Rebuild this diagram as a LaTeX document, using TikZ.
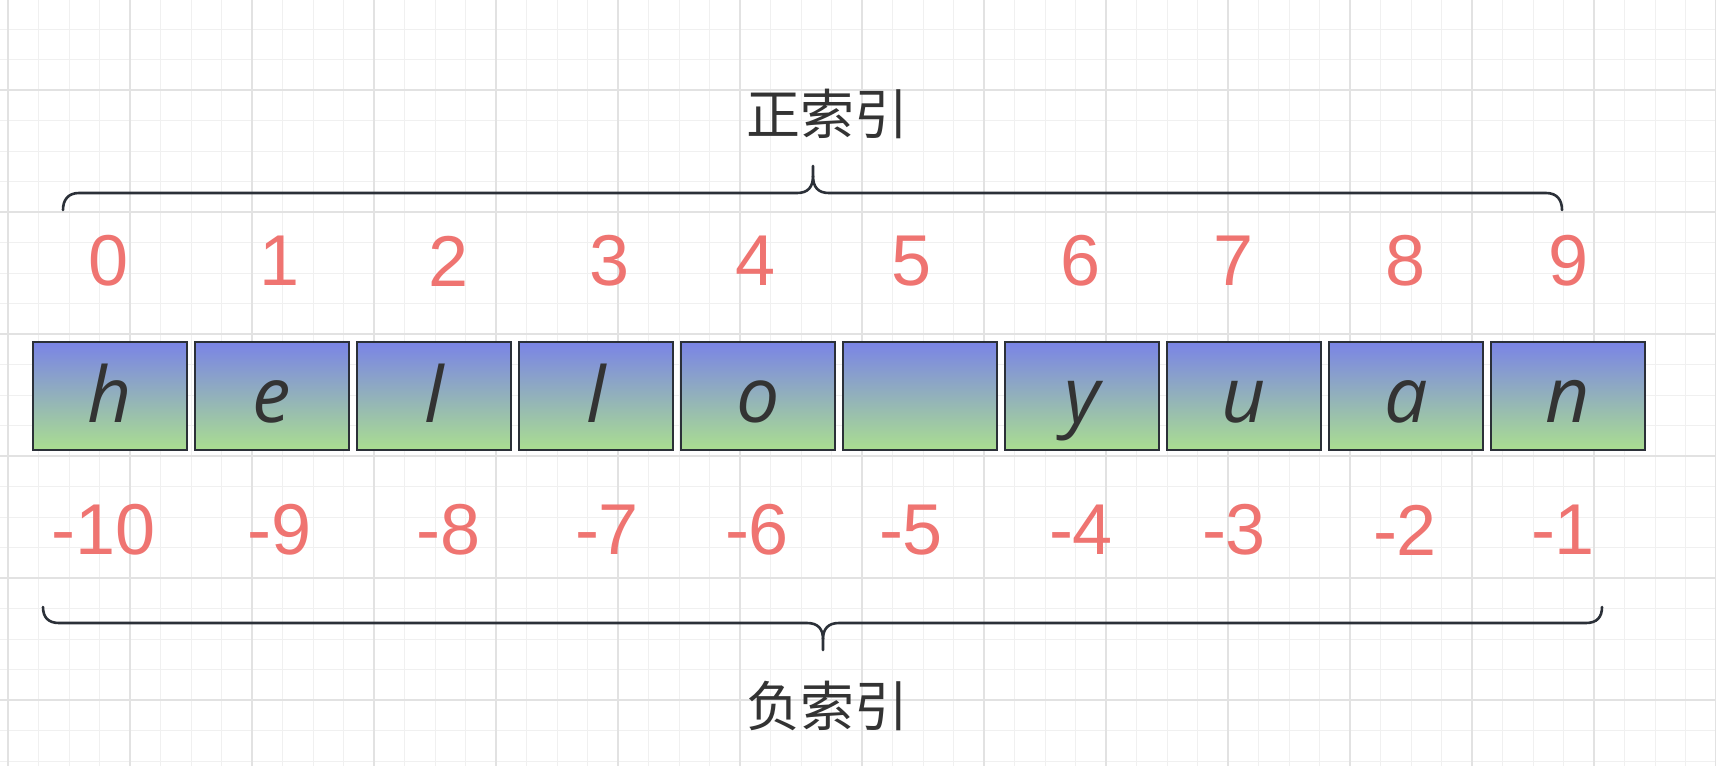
\documentclass[tikz,border=0pt]{standalone}
\usepackage{fontspec}
\setmainfont{Liberation Sans}
\newfontfamily\cjk{Noto Sans CJK SC}
\newfontfamily\letterfont{Open Sans}
\definecolor{minorgrid}{HTML}{F0F0F0}
\definecolor{majorgrid}{HTML}{E2E2E2}
\definecolor{boxline}{HTML}{2B3038}
\definecolor{topfill}{HTML}{7A84E6}
\definecolor{botfill}{HTML}{AADE90}
\definecolor{idxred}{HTML}{EF7471}
\definecolor{txtdark}{HTML}{333333}
\tikzset{
  minorline/.style={draw=minorgrid,line width=0.5pt},
  majorline/.style={draw=majorgrid,line width=0.6pt},
  cell/.style={draw=boxline,line width=1.2pt,top color=topfill,bottom color=botfill,
    minimum width=77pt,minimum height=54pt,inner sep=0pt,text height=26pt,text depth=0pt,
    font=\letterfont\itshape\fontsize{38.5}{40}\selectfont,text=txtdark},
  idx/.style={text=idxred,inner sep=0pt,font=\fontsize{36}{40}\selectfont},
  title/.style={text=txtdark,inner sep=0pt,anchor=base,font=\cjk\fontsize{27}{30}\selectfont},
  bracepath/.style={draw=boxline,line width=1.3pt,line cap=round,line join=round}
}
\begin{document}
\begin{tikzpicture}[x=0.5pt,y=-0.5pt]
\useasboundingbox (0,0) rectangle (1716,766);
\fill[white] (0,0) rectangle (1716,766);
% grid
\foreach \k in {0,...,56} {\draw[minorline] ({8+30.5*\k},0) -- ({8+30.5*\k},766);}
\foreach \k in {-2,...,22} {\draw[minorline] (0,{90+30.5*\k}) -- (1716,{90+30.5*\k});}
\foreach \k in {0,...,14} {\draw[majorline] ({8+122*\k},0) -- ({8+122*\k},766);}
\foreach \k in {0,...,5} {\draw[majorline] (0,{90+122*\k}) -- (1716,{90+122*\k});}
% cells
\foreach \i/\c in {0/h,1/e,2/l,3/l,4/o,5/{},6/y,7/u,8/a,9/n} {
  \node[cell] (c\i) at ({110+162*\i},396) {\c};
}
% positive indices
\foreach \i/\x in {0/109,1/280,2/449,3/610,4/756,5/912,6/1081,7/1234,8/1405,9/1568} {
  \node[idx] (p\i) at (\x,261) {\i};
}
% negative indices
\foreach \i/\x/\t in {0/104/-10,1/280/-9,2/449/-8,3/607/-7,4/757/-6,5/911/-5,6/1081/-4,7/1234/-3,8/1405/-2,9/1563/-1} {
  \node[idx] (n\i) at (\x,530) {\t};
}
% titles
\node[title] (pos) at (827,134) {正索引};
\node[title] (neg) at (827,726) {负索引};
% top brace
\draw[bracepath] (63,210) .. controls (63,200) and (68,193) .. (79,193) -- (797,193)
  .. controls (808,193) and (813,187) .. (813,176) -- (813,166);
\draw[bracepath] (813,176) .. controls (813,187) and (818,193) .. (829,193) -- (1546,193)
  .. controls (1557,193) and (1562,200) .. (1562,210);
% bottom brace
\draw[bracepath] (43,607) .. controls (43,617) and (48,623) .. (59,623) -- (807,623)
  .. controls (818,623) and (823,629) .. (823,639) -- (823,650);
\draw[bracepath] (823,639) .. controls (823,629) and (828,623) .. (839,623) -- (1586,623)
  .. controls (1597,623) and (1602,617) .. (1602,607);
\end{tikzpicture}
\end{document}
